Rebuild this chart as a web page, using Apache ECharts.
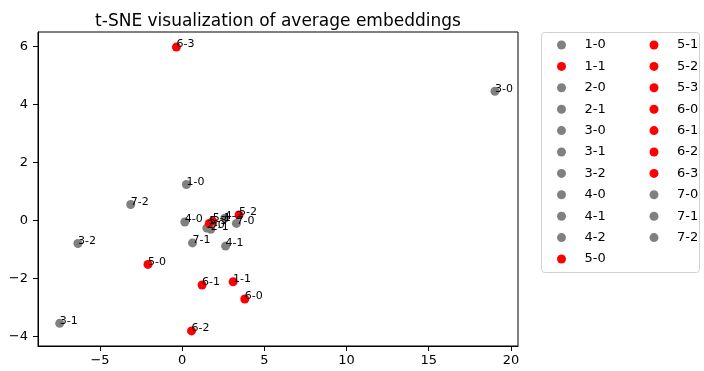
<!DOCTYPE html>
<html>
<head>
<meta charset="utf-8">
<script src="https://cdn.jsdelivr.net/npm/echarts@6/dist/echarts.min.js"></script>
<style>
  html, body { margin: 0; padding: 0; background: #fff; }
  #chart { width: 704px; height: 371px; }
</style>
</head>
<body>
<div id="chart"></div>
<script>
// point labels, in plotting order
const names = ['1-0', '1-1', '2-0', '2-1', '3-0', '3-1', '3-2', '4-0', '4-1', '4-2', '5-0',
               '5-1', '5-2', '5-3', '6-0', '6-1', '6-2', '6-3', '7-0', '7-1', '7-2'];
// t-SNE coordinates
const xs = [0.26, 3.10, 1.50, 1.74, 19.03, -7.45, -6.34, 0.16, 2.64, 2.59, -2.08,
            1.86, 3.46, 1.65, 3.81, 1.21, 0.57, -0.35, 3.30, 0.63, -3.13];
const ys = [1.24, -2.11, -0.26, -0.30, 4.45, -3.54, -0.79, -0.05, -0.88, 0.08, -1.51,
            -0.02, 0.19, -0.10, -2.70, -2.22, -3.80, 5.97, -0.10, -0.77, 0.55];
// which points are highlighted
const redNames = ['1-1', '5-0', '5-1', '5-2', '5-3', '6-0', '6-1', '6-2', '6-3'];
const xTicks = [-5, 0, 5, 10, 15, 20];
const yTicks = [-4, -2, 0, 2, 4, 6];

const chart = echarts.init(document.getElementById('chart'));
const font = 'DejaVu Sans';
const minus = function (v) { return String(v).replace('-', '\u2212'); };

const series = names.map(function (n, i) {
    return {
        name: n,
        type: 'scatter',
        symbolSize: 9,
        data: [[xs[i], ys[i]]],
        itemStyle: { color: redNames.indexOf(n) >= 0 ? '#ff0000' : '#808080', opacity: 1 },
        label: {
            show: true,
            formatter: n,
            position: ['50%', '50%'],
            align: 'left',
            verticalAlign: 'bottom',
            offset: [0, 3],
            fontFamily: font,
            fontSize: 11,
            color: '#000'
        },
        emphasis: { disabled: true },
        animation: false
    };
});

const legendBase = {
    orient: 'vertical',
    top: 38.5,
    padding: 0,
    itemWidth: 9,
    itemHeight: 9,
    itemGap: 8.4,
    icon: 'circle',
    textStyle: { fontFamily: font, fontSize: 13, lineHeight: 13, color: '#000',
                 padding: [0, 0, 0, 13.5] },
    selectedMode: false
};

const option = {
    animation: false,
    title: {
        text: 't-SNE visualization of average embeddings',
        left: 273,
        top: 8,
        textAlign: 'center',
        textStyle: { fontFamily: font, fontSize: 17, fontWeight: 'normal', color: '#000' }
    },
    legend: [
        Object.assign({ left: 557, data: names.slice(0, 11) }, legendBase),
        Object.assign({ left: 649.5, data: names.slice(11) }, legendBase)
    ],
    graphic: [{
        type: 'rect',
        shape: { x: 541.5, y: 32.5, width: 158, height: 240, r: 3 },
        style: { fill: 'none', stroke: '#d0d0d0', lineWidth: 1 },
        silent: true
    }],
    grid: {
        left: 38, right: 186, top: 32, bottom: 25,
        show: true, borderColor: '#000', borderWidth: 1
    },
    xAxis: {
        type: 'value',
        min: -8.77, max: 20.43,
        splitLine: { show: false },
        axisLine: { onZero: false, lineStyle: { color: '#000' } },
        axisTick: { show: true, inside: false, length: 5, customValues: xTicks, lineStyle: { color: '#000' } },
        axisLabel: { customValues: xTicks, formatter: minus, margin: 8,
                     fontFamily: font, fontSize: 13, color: '#000' }
    },
    yAxis: {
        type: 'value',
        min: -4.32, max: 6.49,
        splitLine: { show: false },
        axisLine: { show: true, onZero: false, lineStyle: { color: '#000' } },
        axisTick: { show: true, inside: false, length: 5, customValues: yTicks, lineStyle: { color: '#000' } },
        axisLabel: { customValues: yTicks, formatter: minus, margin: 10,
                     fontFamily: font, fontSize: 13, color: '#000' }
    },
    series: series
};
option && chart.setOption(option);
</script>
</body>
</html>
